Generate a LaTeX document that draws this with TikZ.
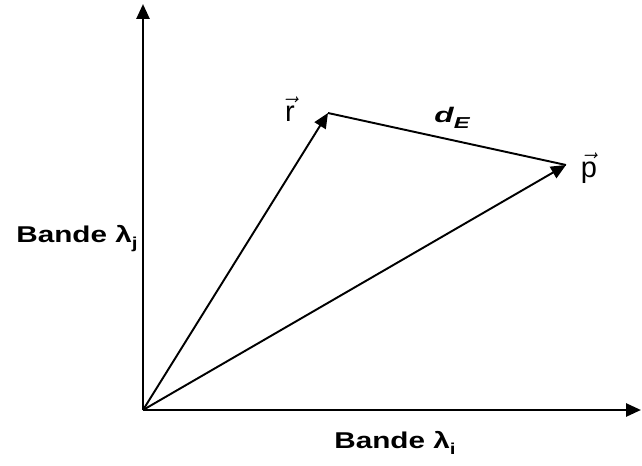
\documentclass[tikz,border=0pt]{standalone}
\usepackage{fontspec}
\setmainfont{Liberation Sans}
\usetikzlibrary{arrows.meta, positioning}

\begin{document}
\begin{tikzpicture}[x=0.02cm, y=-0.02cm,
    axis/.style={line width=1.5pt, -{Triangle[length=0.3cm, width=0.26cm]}},
    vecline/.style={line width=1.1pt, -{Triangle[length=0.3cm, width=0.26cm]}},
    veclabel/.style={font=\fontsize{16.5}{16.5}\selectfont},
    bandlabel/.style={font=\bfseries\fontsize{13}{13}\selectfont}]
    \useasboundingbox (0,0) rectangle (642,466);
    \coordinate (o) at (143,410);
    \coordinate (ytop) at (143,4);
    \coordinate (xend) at (641,410);
    \coordinate (r) at (328,113);
    \coordinate (p) at (566,165);

    \draw[axis] (o) -- (ytop);
    \draw[axis] (o) -- (xend);
    \draw[vecline] (o) -- (r);
    \draw[vecline] (o) -- (p);
    \draw[line width=1.1pt] (r) -- (p);

    \node[veclabel] (lblr) at (290,109) {$\vec{\mbox{r}}$};
    \node[veclabel] (lblp) at (589,168) {$\vec{\mbox{p}}$};
    \node[font=\bfseries\itshape\fontsize{12}{12}\selectfont] (lbld) at (452,118)
        {\scalebox{1.5}[1]{d\raisebox{-0.5ex}{\fontsize{9}{9}\selectfont E}}};
    \node[bandlabel] (lblj) at (77,239)
        {\scalebox{1.3}[1]{Bande λ\raisebox{-0.5ex}{\fontsize{9}{9}\selectfont j}}};
    \node[bandlabel] (lbli) at (395,443)
        {\scalebox{1.3}[1]{Bande λ\raisebox{-0.5ex}{\fontsize{9}{9}\selectfont i}}};
\end{tikzpicture}
\end{document}
